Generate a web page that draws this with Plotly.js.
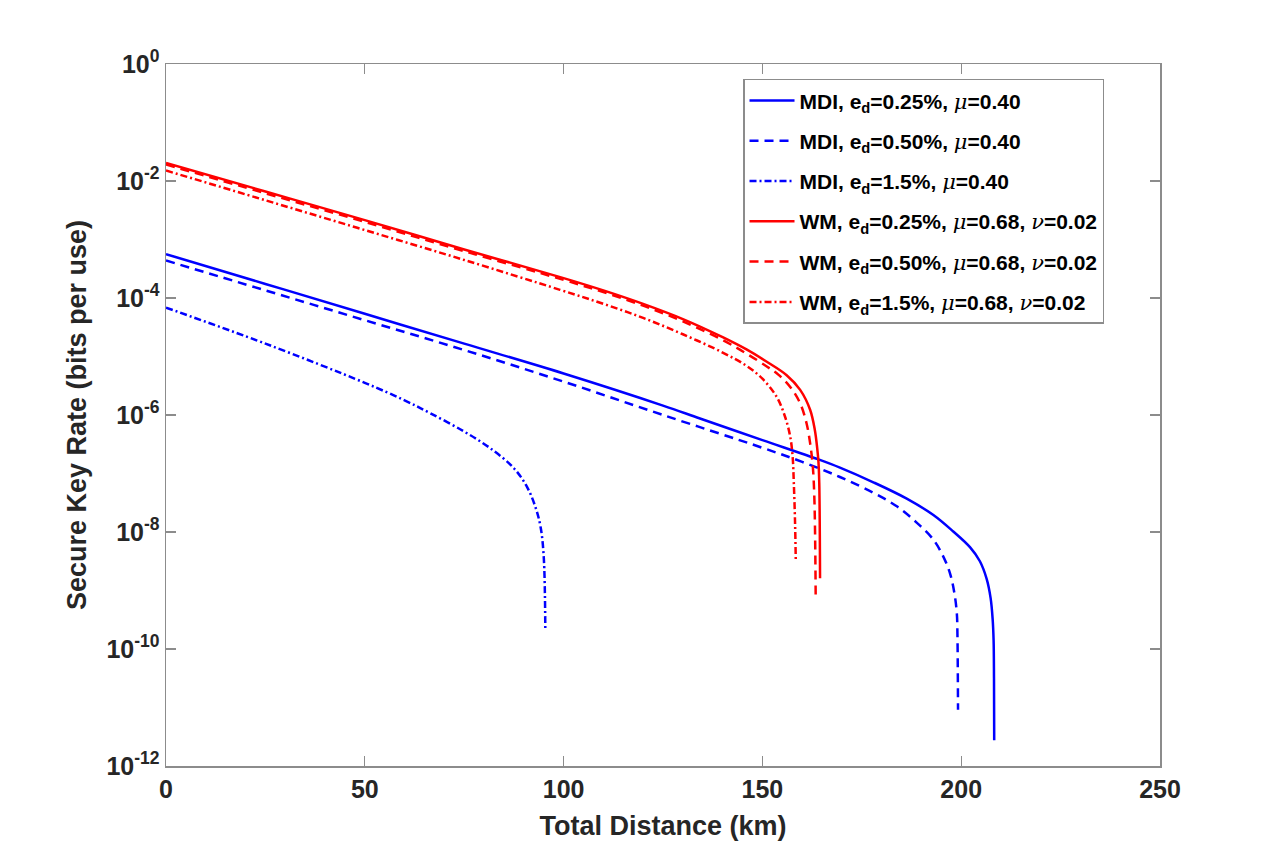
<!DOCTYPE html>
<html>
<head>
<meta charset="utf-8">
<script src="https://cdn.plot.ly/plotly-3.0.1.min.js"></script>
<style>html,body{margin:0;padding:0;background:#fff;}#chart{width:1280px;height:861px;}</style>
</head>
<body>
<div id="chart"></div>
<script>
// Total distance (km) and secure key rate (bits per use)
const mdi025_d = [0, 25, 50, 75, 100, 125, 134.3, 150, 164.1, 169.5, 177.9, 186.3, 193, 198, 202.2, 204.7, 206.4, 207.4, 207.9, 208.15, 208.25, 208.3];
const mdi025_r = [5.62e-4, 1.74e-4, 5.37e-5, 1.66e-5, 5.13e-6, 1.45e-6, 8.71e-7, 3.72e-7, 1.74e-7, 1.26e-7, 7.08e-8, 3.72e-8, 1.95e-8, 1.02e-8, 5.50e-9, 3.16e-9, 1.58e-9, 7.41e-10, 3.31e-10, 1.41e-10, 3.16e-11, 2.75e-12];

const mdi050_d = [0, 25, 50, 75, 100, 125, 150, 160, 169.5, 177.9, 183.8, 188.8, 193, 195.5, 197.2, 198.3, 198.9, 199.05, 199.2];
const mdi050_r = [4.37e-4, 1.35e-4, 4.17e-5, 1.29e-5, 3.72e-6, 1.00e-6, 2.75e-7, 1.58e-7, 8.71e-8, 4.68e-8, 2.75e-8, 1.45e-8, 7.41e-9, 3.80e-9, 1.95e-9, 8.91e-10, 4.07e-10, 1.86e-10, 9.12e-12];

const mdi15_d = [0, 25, 50, 60, 66.5, 74.9, 81.6, 87.5, 90.8, 92.9, 94.2, 95.0, 95.4];
const mdi15_r = [6.84e-5, 1.66e-5, 3.55e-6, 1.78e-6, 1.07e-6, 5.25e-7, 2.69e-7, 1.23e-7, 5.89e-8, 2.69e-8, 1.23e-8, 3.80e-9, 2.09e-10];

const wm025_d = [0, 25, 50, 75, 100, 110, 120, 130, 140, 146, 151.1, 156.1, 159.5, 162, 163.2, 163.8, 164.1, 164.3, 164.5];
const wm025_r = [2.04e-2, 6.61e-3, 2.14e-3, 6.76e-4, 2.19e-4, 1.35e-4, 7.94e-5, 4.37e-5, 2.14e-5, 1.32e-5, 8.13e-6, 4.79e-6, 2.69e-6, 1.23e-6, 5.50e-7, 2.63e-7, 1.58e-7, 6.92e-8, 1.62e-9];

const wm050_d = [0, 25, 50, 75, 100, 110, 120, 130, 140, 146, 151.1, 154, 157, 159.5, 161.1, 162.0, 162.7, 163.1, 163.4];
const wm050_r = [1.91e-2, 6.17e-3, 2.00e-3, 6.31e-4, 2.04e-4, 1.26e-4, 7.41e-5, 3.98e-5, 1.91e-5, 1.12e-5, 6.76e-6, 4.90e-6, 3.02e-6, 1.58e-6, 7.24e-7, 3.31e-7, 1.26e-7, 3.16e-8, 7.76e-10];

const wm15_d = [0, 25, 50, 75, 99.1, 110, 120, 130, 140, 146, 150, 153.6, 155.7, 157.0, 157.6, 157.9, 158.2, 158.4];
const wm15_r = [1.51e-2, 4.68e-3, 1.45e-3, 4.47e-4, 1.38e-4, 7.94e-5, 4.57e-5, 2.40e-5, 1.17e-5, 6.92e-6, 4.17e-6, 2.04e-6, 9.33e-7, 4.27e-7, 1.95e-7, 6.92e-8, 1.58e-8, 3.09e-9];

const MU = "<span style='font-family:\"DejaVu Serif\",serif;font-weight:normal'><i>μ</i></span>";
const NU = "<span style='font-family:\"DejaVu Serif\",serif;font-weight:normal'><i>ν</i></span>";
const seriesNames = [
  "MDI, e<sub>d</sub>=0.25%, " + MU + "=0.40",
  "MDI, e<sub>d</sub>=0.50%, " + MU + "=0.40",
  "MDI, e<sub>d</sub>=1.5%, " + MU + "=0.40",
  "WM, e<sub>d</sub>=0.25%, " + MU + "=0.68, " + NU + "=0.02",
  "WM, e<sub>d</sub>=0.50%, " + MU + "=0.68, " + NU + "=0.02",
  "WM, e<sub>d</sub>=1.5%, " + MU + "=0.68, " + NU + "=0.02"
];

const xTickVals = [0, 50, 100, 150, 200, 250];
const yTickVals = [1, 1e-2, 1e-4, 1e-6, 1e-8, 1e-10, 1e-12];
const yTickText = ["10<sup>0</sup>", "10<sup>-2</sup>", "10<sup>-4</sup>", "10<sup>-6</sup>", "10<sup>-8</sup>", "10<sup>-10</sup>", "10<sup>-12</sup>"];

const BLUE = "#0000ff", RED = "#ff0000";
const DASH = "9px,6px";
const DASHDOT = "7px,3px,2px,3px";

function tr(x, y, name, color, dash, i) {
  return {
    x: x, y: y, name: name, type: "scatter", mode: "lines",
    line: {color: color, width: 2.5, dash: dash, shape: "spline", smoothing: 1.0},
    legendgroup: "g" + i, hoverinfo: "skip"
  };
}

const data = [
  tr(mdi025_d, mdi025_r, seriesNames[0], BLUE, "solid", 0),
  tr(mdi050_d, mdi050_r, seriesNames[1], BLUE, DASH, 1),
  tr(mdi15_d, mdi15_r, seriesNames[2], BLUE, DASHDOT, 2),
  tr(wm025_d, wm025_r, seriesNames[3], RED, "solid", 3),
  tr(wm050_d, wm050_r, seriesNames[4], RED, DASH, 4),
  tr(wm15_d, wm15_r, seriesNames[5], RED, DASHDOT, 5)
];

const FAM = "Arial, 'Liberation Sans', sans-serif";
const tickFont = {family: FAM, size: 25, color: "#262626", weight: "bold"};
const axisCommon = {
  showline: true, linecolor: "#8c8c8c", linewidth: 1.5, mirror: "ticks",
  ticks: "inside", ticklen: 10, tickwidth: 1.2, tickcolor: "#8c8c8c",
  showgrid: false, zeroline: false, tickfont: tickFont
};

const layout = {
  width: 1280, height: 861,
  paper_bgcolor: "#ffffff", plot_bgcolor: "#ffffff",
  margin: {l: 166, r: 120, t: 64, b: 95, pad: 0},
  showlegend: true,
  xaxis: Object.assign({}, axisCommon, {
    range: [0, 250], tickvals: xTickVals, ticktext: xTickVals.map(String),
    title: {text: "Total Distance (km)", font: {family: FAM, size: 27, color: "#262626", weight: "bold"}, standoff: 14}
  }),
  yaxis: Object.assign({}, axisCommon, {
    type: "log", range: [-12, 0], tickvals: yTickVals, ticktext: yTickText,
    title: {text: "Secure Key Rate (bits per use)", font: {family: FAM, size: 27, color: "#262626", weight: "bold"}, standoff: 12}
  }),
  legend: {
    x: 0.5805, y: 0.979, xanchor: "left", yanchor: "top",
    bgcolor: "#ffffff", bordercolor: "#8c8c8c", borderwidth: 1.5,
    font: {family: FAM, size: 21, color: "#000000", weight: "bold"},
    itemwidth: 45,
    traceorder: "grouped", tracegroupgap: 10
  }
};

Plotly.newPlot("chart", data, layout, {staticPlot: true, displayModeBar: false});
</script>
</body>
</html>
